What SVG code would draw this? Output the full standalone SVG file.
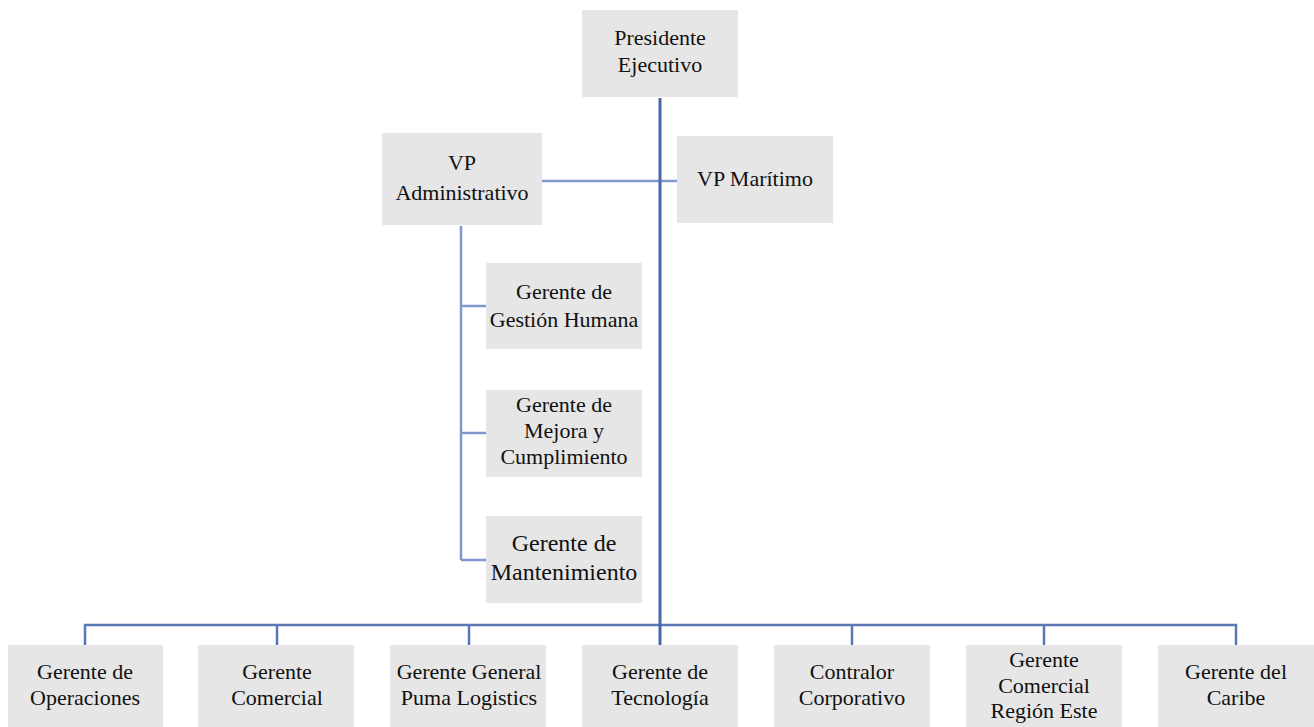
<svg xmlns="http://www.w3.org/2000/svg" width="1314" height="727" viewBox="0 0 1314 727">
<style>
.box{fill:#e6e6e6;}
.t{font-family:'Liberation Serif',serif;font-size:22px;fill:#111;text-anchor:middle;}
.big{font-size:24px;}
.main{stroke:#4868aa;stroke-width:3;fill:none;}
.br{stroke:#7f98cc;stroke-width:2.5;fill:none;}
.bot{stroke:#5a78b8;stroke-width:2.5;fill:none;}
</style>
<rect width="1314" height="727" fill="#ffffff"/>
<g id="connectors">
<line class="br" x1="542" y1="181" x2="677" y2="181"/>
<path class="br" d="M461 226 V560 M461 306 H486 M461 433 H486 M461 560 H486"/>
<path class="bot" d="M85 645 V625 H1236 V645 M277 625 V645 M469 625 V645 M852 625 V645 M1044 625 V645"/>
<line class="main" x1="660" y1="98" x2="660" y2="645"/>
</g>
<g id="presidente"><rect class="box" x="582" y="10" width="156" height="87"/><text class="t" x="660" y="45">Presidente</text><text class="t" x="660" y="72">Ejecutivo</text></g>
<g id="vp-admin"><rect class="box" x="382" y="133" width="160" height="92"/><text class="t" x="462" y="170">VP</text><text class="t" x="462" y="200">Administrativo</text></g>
<g id="vp-maritimo"><rect class="box" x="677" y="136" width="156" height="87"/><text class="t" x="755" y="186">VP Marítimo</text></g>
<g id="gestion-humana"><rect class="box" x="486" y="263" width="156" height="86"/><text class="t" x="564" y="299">Gerente de</text><text class="t" x="564" y="327">Gestión Humana</text></g>
<g id="mejora"><rect class="box" x="486" y="390" width="156" height="87"/><text class="t" x="564" y="412">Gerente de</text><text class="t" x="564" y="438">Mejora y</text><text class="t" x="564" y="464">Cumplimiento</text></g>
<g id="mantenimiento"><rect class="box" x="486" y="516" width="156" height="87"/><text class="t big" x="564" y="551">Gerente de</text><text class="t big" x="564" y="580">Mantenimiento</text></g>
<g id="operaciones"><rect class="box" x="8" y="645" width="155" height="90"/><text class="t" x="85" y="679">Gerente de</text><text class="t" x="85" y="705">Operaciones</text></g>
<g id="comercial"><rect class="box" x="198" y="645" width="156" height="90"/><text class="t" x="277" y="679">Gerente</text><text class="t" x="277" y="705">Comercial</text></g>
<g id="puma"><rect class="box" x="390" y="645" width="156" height="90"/><text class="t" x="469" y="679">Gerente General</text><text class="t" x="469" y="705">Puma Logistics</text></g>
<g id="tecnologia"><rect class="box" x="582" y="645" width="156" height="90"/><text class="t" x="660" y="679">Gerente de</text><text class="t" x="660" y="705">Tecnología</text></g>
<g id="contralor"><rect class="box" x="774" y="645" width="156" height="90"/><text class="t" x="852" y="679">Contralor</text><text class="t" x="852" y="705">Corporativo</text></g>
<g id="region-este"><rect class="box" x="966" y="645" width="156" height="90"/><text class="t" x="1044" y="667">Gerente</text><text class="t" x="1044" y="693">Comercial</text><text class="t" x="1044" y="718">Región Este</text></g>
<g id="caribe"><rect class="box" x="1158" y="645" width="156" height="90"/><text class="t" x="1236" y="679">Gerente del</text><text class="t" x="1236" y="705">Caribe</text></g>
</svg>
